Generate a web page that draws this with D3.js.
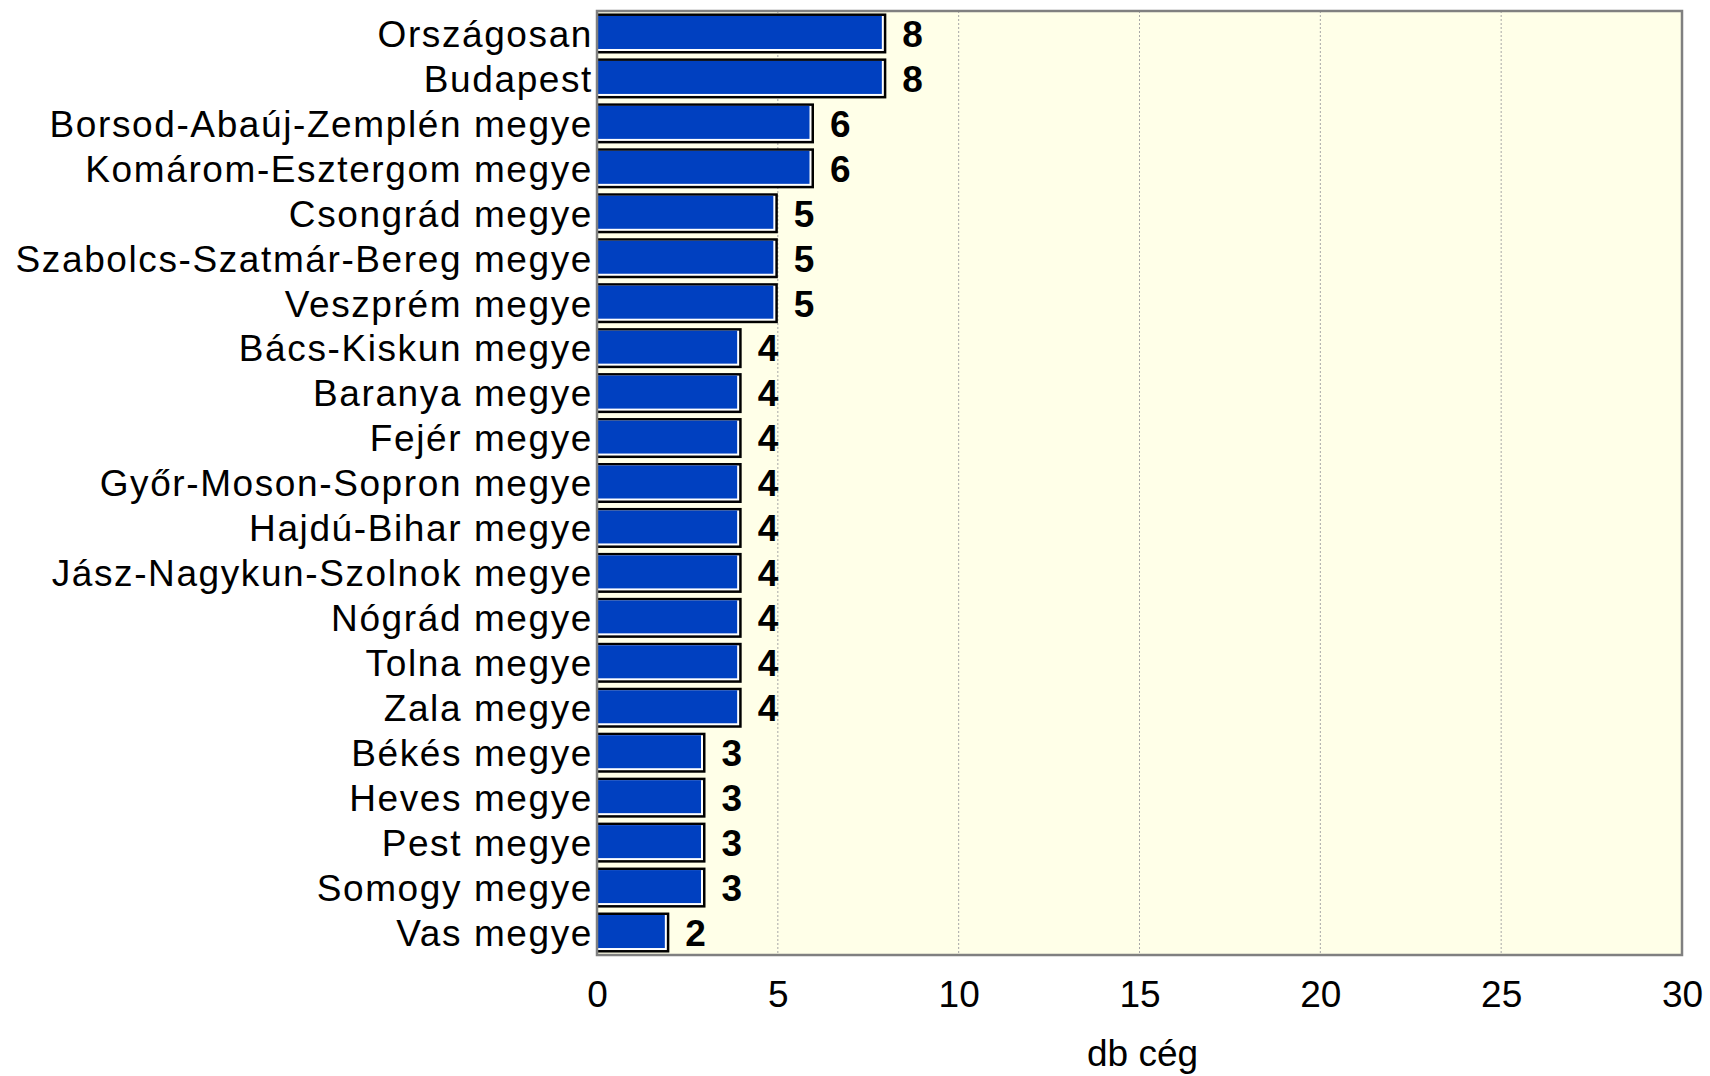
<!DOCTYPE html>
<html>
<head>
<meta charset="utf-8">
<script src="https://cdn.jsdelivr.net/npm/d3@7"></script>
<style>
  body { margin: 0; background: #fff; }
  svg text { font-family: "Liberation Sans", Arial, sans-serif; }
</style>
</head>
<body>
<svg id="canvas"></svg>
<script>
// data
const categories = [
  "Országosan", "Budapest", "Borsod-Abaúj-Zemplén megye", "Komárom-Esztergom megye",
  "Csongrád megye", "Szabolcs-Szatmár-Bereg megye", "Veszprém megye", "Bács-Kiskun megye",
  "Baranya megye", "Fejér megye", "Győr-Moson-Sopron megye", "Hajdú-Bihar megye",
  "Jász-Nagykun-Szolnok megye", "Nógrád megye", "Tolna megye", "Zala megye",
  "Békés megye", "Heves megye", "Pest megye", "Somogy megye", "Vas megye"
];
const values = [8, 8, 6, 6, 5, 5, 5, 4, 4, 4, 4, 4, 4, 4, 4, 4, 3, 3, 3, 3, 2];
const xTicks = [0, 5, 10, 15, 20, 25, 30];
const xTitle = "db cég";

const data = categories.map((c, i) => ({ name: c, value: values[i] }));

const width = 1710;
const height = 1076;
const margin = { top: 11, right: 28, bottom: 121, left: 597 };

const svg = d3.select("#canvas")
  .attr("width", width)
  .attr("height", height);

const chartWidth = width - margin.left - margin.right;
const chartHeight = height - margin.top - margin.bottom;

const chartArea = svg.append("g")
  .attr("transform", `translate(${margin.left},${margin.top})`);

const x = d3.scaleLinear()
  .domain([0, 30])
  .range([0, chartWidth]);

const y = d3.scaleBand()
  .domain(categories)
  .range([0, chartHeight])
  .paddingInner(0.11)
  .paddingOuter(0.055);

// plot background
chartArea.append("rect")
  .attr("width", chartWidth)
  .attr("height", chartHeight)
  .attr("fill", "#ffffe8");

// gridlines
chartArea.selectAll(".grid")
  .data(xTicks.filter(t => t > 0 && t < 30))
  .enter().append("line")
  .attr("class", "grid")
  .attr("x1", d => x(d)).attr("x2", d => x(d))
  .attr("y1", 0).attr("y2", chartHeight)
  .attr("stroke", "#a8a8a8")
  .attr("stroke-width", 1)
  .attr("stroke-dasharray", "2,2");

// bars: black outline, white shadow line, blue fill
const bars = chartArea.selectAll(".bar")
  .data(data)
  .enter().append("g")
  .attr("class", "bar");

bars.append("rect")
  .attr("x", 0)
  .attr("y", d => y(d.name))
  .attr("width", d => x(d.value))
  .attr("height", y.bandwidth())
  .attr("fill", "#000");

bars.append("rect")
  .attr("x", 0)
  .attr("y", d => y(d.name) + 2.5)
  .attr("width", d => x(d.value) - 2.5)
  .attr("height", y.bandwidth() - 5)
  .attr("fill", "#fff");

bars.append("rect")
  .attr("x", 0)
  .attr("y", d => y(d.name) + 2.5)
  .attr("width", d => x(d.value) - 4.5)
  .attr("height", y.bandwidth() - 7)
  .attr("fill", "#0040c0");

// value labels
chartArea.selectAll(".val")
  .data(data)
  .enter().append("text")
  .attr("class", "val")
  .attr("x", d => x(d.value) + 16)
  .attr("y", d => y(d.name) + y.bandwidth() / 2)
  .attr("dy", "0.36em")
  .attr("font-size", 37)
  .attr("font-weight", "bold")
  .attr("fill", "#000")
  .text(d => d.value);

// plot border
chartArea.append("rect")
  .attr("width", chartWidth)
  .attr("height", chartHeight)
  .attr("fill", "none")
  .attr("stroke", "#808080")
  .attr("stroke-width", 2.5);

// category axis
const yAxis = d3.axisLeft(y).tickSize(0).tickPadding(4);
const yG = chartArea.append("g").call(yAxis);
yG.select(".domain").remove();
yG.selectAll("text")
  .attr("font-size", 37)
  .attr("letter-spacing", "1.6px")
  .attr("fill", "#000")
  .attr("dy", "0.36em");

// value axis
const xAxis = d3.axisBottom(x).tickValues(xTicks).tickSize(0).tickPadding(26);
const xG = chartArea.append("g")
  .attr("transform", `translate(0, ${chartHeight})`)
  .call(xAxis);
xG.select(".domain").remove();
xG.selectAll("text")
  .attr("font-size", 37)
  .attr("fill", "#000");

svg.append("text")
  .attr("x", margin.left + chartWidth / 2 + 3)
  .attr("y", 1066)
  .attr("text-anchor", "middle")
  .attr("font-size", 37)
  .attr("fill", "#000")
  .text(xTitle);
</script>
</body>
</html>
